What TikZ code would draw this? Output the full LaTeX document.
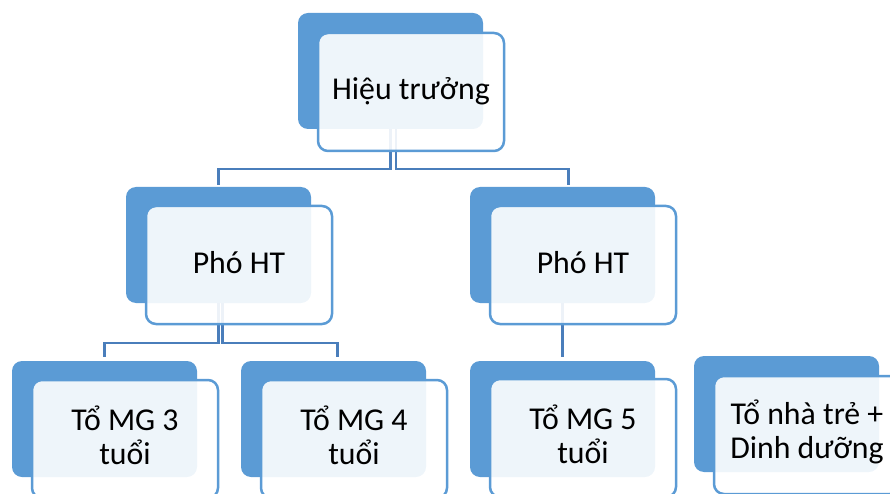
\documentclass[tikz,border=0pt]{standalone}
\usepackage{fontspec}
\setmainfont{Carlito}
\definecolor{boxblue}{HTML}{5B9BD5}
\definecolor{linkblue}{HTML}{4A7EBB}
\begin{document}
\begin{tikzpicture}[x=1pt,y=-1pt,
  back/.style={fill=boxblue, draw=none, rounded corners=10pt, minimum width=185pt, minimum height=116pt, inner sep=0pt, outer sep=0pt, anchor=north west},
  front/.style={fill=white, fill opacity=0.9, draw=boxblue, line width=2.5pt, rounded corners=10pt, minimum width=186pt, minimum height=118pt, inner sep=0pt, outer sep=0pt, anchor=north west},
  conn/.style={draw=linkblue, line width=2.5pt},
  lbl/.style={font=\fontsize{31.8}{34}\selectfont, align=center, anchor=base, inner sep=0pt}]
\useasboundingbox (0,0) rectangle (890,494);
\clip (0,0) rectangle (890,494);
% back boxes
\node[back] (b0) at (298,13) {};
\node[back] (p1) at (126,187) {};
\node[back] (p2) at (470,187) {};
\node[back] (g1) at (12,361) {};
\node[back] (g2) at (241,361) {};
\node[back] (g3) at (470,361) {};
\node[back] (g4) at (694,356) {};
% connectors
\coordinate (j1) at (0,169);
\coordinate (j2) at (0,343);
\draw[conn,shorten >=2pt] (b0.south) -- (b0.south |- j1) -| (p1.north);
\draw[conn,shorten >=2pt] ([xshift=5.5pt]b0.south) -- ([xshift=5.5pt]b0.south |- j1) -| ([xshift=6pt]p2.north);
\draw[conn,shorten >=4pt] (p1.south) -- (p1.south |- j2) -| (g1.north);
\draw[conn,shorten >=4pt] ([xshift=4pt]p1.south) -- ([xshift=4pt]p1.south |- j2) -| ([xshift=4pt]g2.north);
\draw[conn,shorten >=4pt] (p2.south) -- (g3.north);
% front boxes
\node[front] (f0) at (318,33) {};
\node[front] (fp1) at (146,206) {};
\node[front] (fp2) at (490,206) {};
\node[front] (fg1) at (32,380) {};
\node[front] (fg2) at (261,380) {};
\node[front] (fg3) at (490,379) {};
\node[front] (fg4) at (714,376) {};
% labels
\node[lbl] (t0) at (411,100) {Hiệu trưởng};
\node[lbl] (tp1) at (239,273) {Phó HT};
\node[lbl] (tp2) at (583,273) {Phó HT};
\node[lbl] (tg1) at (125,464) {Tổ MG 3\\tuổi};
\node[lbl] (tg2) at (354,464) {Tổ MG 4\\tuổi};
\node[lbl] (tg3) at (583,463) {Tổ MG 5\\tuổi};
\node[lbl] (tg4) at (807,458) {Tổ nhà trẻ +\\Dinh dưỡng};
\end{tikzpicture}
\end{document}
